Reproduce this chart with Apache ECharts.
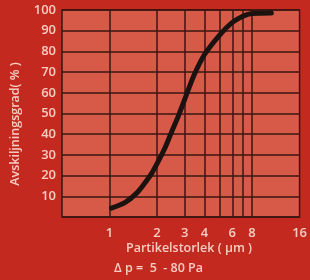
<!DOCTYPE html>
<html>
<head>
<meta charset="utf-8">
<script src="https://cdn.jsdelivr.net/npm/echarts@6/dist/echarts.min.js"></script>
<style>
  html, body { margin: 0; padding: 0; background: #c3291f; }
  #main { width: 310px; height: 280px; }
</style>
</head>
<body>
<div id="main"></div>
<script>
var myChart = echarts.init(document.getElementById('main'));

// particle size (µm) vs separation efficiency (%)
const sizes = [1.03, 1.25, 1.48, 1.67, 1.85, 2.03, 2.24, 2.47, 2.72, 3.07, 3.43, 4.0, 5.0, 6.0, 7.0, 8.0, 10.6];
const efficiency = [4.3, 6.9, 11.4, 16.3, 21.1, 26.7, 33.2, 41, 48.5, 59, 68.5, 78.5, 88, 94, 97, 98.3, 98.6];
const xGridValues = [1, 2, 3, 4, 5, 6, 7, 8];
const xTickLabels = [1, 2, 3, 4, 6, 8, 16];

const labelColor = '#f6cdc2';
const lineColor = '#3a1610';
const fontFamily = '"Open Sans", "Noto Sans", sans-serif';

let option = {
    backgroundColor: '#c3291f',
    animation: false,
    grid: {
        left: 62, right: 10, top: 10, bottom: 63,
        show: true,
        backgroundColor: '#d75a49',
        borderColor: lineColor,
        borderWidth: 1.5
    },
    xAxis: {
        type: 'log',
        logBase: 2,
        min: 0.5,
        max: 16,
        axisLine: {show: false},
        axisTick: {show: false, customValues: xGridValues},
        splitLine: {show: true, lineStyle: {color: lineColor, width: 1.5}},
        axisLabel: {
            customValues: xTickLabels,
            color: labelColor, fontSize: 13, fontWeight: 600, fontFamily: fontFamily,
            margin: 10
        }
    },
    yAxis: {
        type: 'value',
        min: 0,
        max: 100,
        interval: 10,
        axisLine: {show: false},
        axisTick: {show: false},
        splitLine: {show: true, lineStyle: {color: lineColor, width: 1.5}},
        axisLabel: {
            color: labelColor, fontSize: 13, fontWeight: 600, fontFamily: fontFamily,
            margin: 6,
            formatter: function (v) { return v === 0 ? '' : v; }
        }
    },
    graphic: [
        {
            type: 'text', x: 15, y: 124, rotation: Math.PI / 2,
            style: {
                text: 'Avskiljningsgrad( % )', fill: labelColor,
                font: '600 12.5px ' + fontFamily, align: 'center', verticalAlign: 'middle'
            }
        },
        {
            type: 'text', x: 189, y: 248,
            style: {
                text: 'Partikelstorlek ( µm )', fill: labelColor,
                font: '600 12.5px ' + fontFamily, align: 'center', verticalAlign: 'middle'
            }
        },
        {
            type: 'text', x: 114, y: 268,
            style: {
                text: 'Δ p =  5  - 80 Pa', fill: labelColor,
                font: '600 12.5px ' + fontFamily, align: 'left', verticalAlign: 'middle'
            }
        }
    ],
    series: [
        {
            type: 'line',
            data: sizes.map(function (s, i) { return [s, efficiency[i]]; }),
            smooth: 0.3,
            showSymbol: false,
            lineStyle: {color: '#1c1310', width: 5, cap: 'round'}
        }
    ]
};

myChart.setOption(option);
</script>
</body>
</html>
